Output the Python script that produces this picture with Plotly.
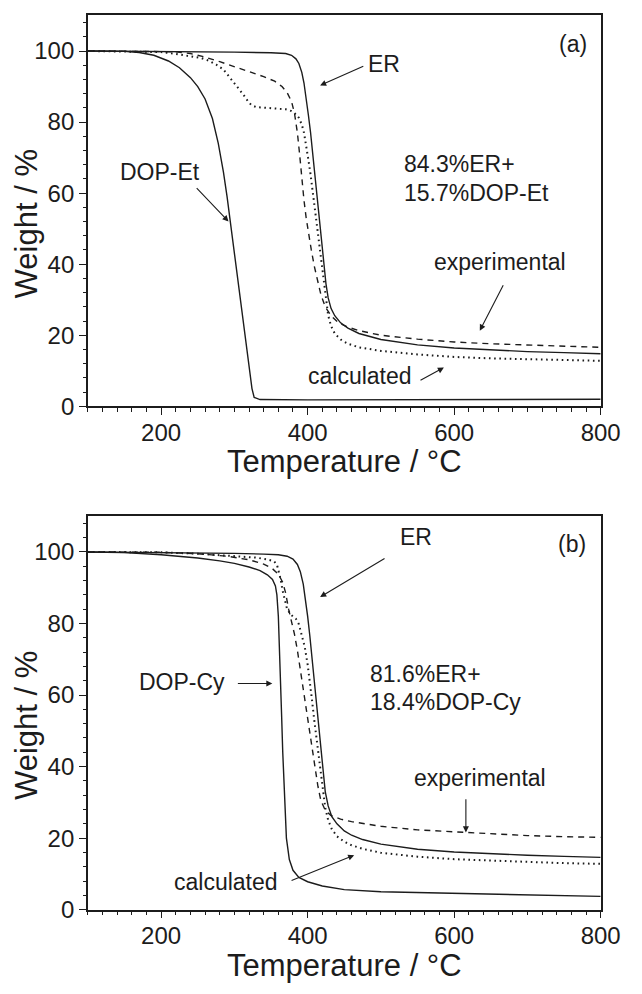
import plotly.graph_objects as go

# ---------------- panel (a): ER / DOP-Et ----------------
er_a_t = [100, 200, 300, 350, 370, 378, 384, 388, 392, 395, 398, 401, 404, 407, 410, 413, 416, 419, 422,
          425, 428, 432, 437, 445, 455, 470, 500, 550, 600, 650, 700, 750, 800]
er_a_w = [100, 99.9, 99.7, 99.5, 99.3, 98.8, 97.8, 96.5, 94, 91, 87, 82, 77, 71, 65, 59, 52.5, 46, 40,
          34.5, 30.5, 27.5, 25.5, 23.5, 22, 20.5, 18.8, 17.3, 16.4, 15.8, 15.4, 15.1, 14.8]

dopet_t = [100, 150, 170, 190, 210, 225, 240, 250, 260, 270, 278, 285, 290, 295, 300, 305, 310, 315,
           320, 324, 327, 335, 400, 600, 800]
dopet_w = [100, 99.9, 99.6, 98.8, 97.2, 95.3, 92.5, 90, 86.5, 81, 74, 66, 59, 51, 43, 35, 27, 19,
           11, 5, 2.5, 1.9, 1.8, 1.8, 2.0]

exp_a_t = [100, 200, 220, 240, 260, 280, 300, 320, 340, 355, 365, 372, 378, 382, 386, 389, 392, 395,
           398, 401, 405, 409, 413, 418, 424, 432, 442, 455, 470, 500, 550, 600, 650, 700, 750, 800]
exp_a_w = [100, 100, 99.8, 99.3, 98.3, 97, 95.6, 94.2, 92.8, 91.5, 90, 88.3, 85.8, 82.5, 77, 71, 64, 58,
           53, 48.5, 44, 39.5, 35.5, 31.5, 28, 25.5, 23.5, 22.3, 21.3, 20, 18.9, 18.1, 17.6, 17.2, 16.9, 16.6]

calc_a_t = [100, 180, 200, 220, 240, 255, 265, 275, 285, 295, 305, 312, 318, 323, 330, 350, 370, 378,
            384, 388, 392, 395, 398, 401, 404, 407, 410, 413, 416, 419, 422, 425, 428, 432, 437, 445,
            455, 470, 500, 550, 600, 650, 700, 750, 800]
calc_a_w = [100, 99.9, 99.7, 99.2, 98.6, 98, 97.3, 96.2, 94.8, 92.3, 89.5, 87.8, 86, 84.8, 84.2, 84, 83.6, 83.1,
            82.2, 81.2, 79.3, 77, 73.6, 69.4, 65.2, 60.2, 55.1, 50, 44.6, 39, 34, 29.4, 25.6, 22.6, 20.5, 18.8,
            17.6, 16.6, 15.6, 14.6, 13.9, 13.5, 13.2, 13.0, 12.8]

# ---------------- panel (b): ER / DOP-Cy ----------------
er_b_t = [100, 200, 300, 340, 360, 372, 380, 386, 390, 394, 397, 400, 403, 406, 409, 412, 415, 418, 421,
          424, 428, 433, 440, 450, 460, 475, 500, 550, 600, 650, 700, 750, 800]
er_b_w = [100, 99.9, 99.6, 99.4, 99.2, 98.8, 98, 96.5, 94.5, 91, 87, 82, 76.5, 70, 63.5, 57, 50.5, 44, 38,
          33, 29, 26, 24, 22, 20.8, 19.6, 18.3, 16.9, 16.1, 15.6, 15.2, 14.9, 14.6]

dopcy_t = [100, 150, 200, 250, 280, 300, 320, 335, 345, 352, 356, 358, 360, 361.5, 363, 364.5, 366, 367.5,
           369, 371, 375, 380, 388, 400, 420, 450, 500, 600, 700, 800]
dopcy_w = [100, 99.8, 99.2, 98.3, 97.5, 96.8, 95.8, 94.8, 93.6, 92.3, 90.5, 88, 82, 74, 64, 54, 44, 35,
           27, 20, 14, 11, 9, 7.8, 6.6, 5.6, 5.0, 4.5, 4.2, 3.7]

exp_b_t = [100, 200, 250, 290, 320, 340, 352, 360, 366, 370, 374, 378, 382, 386, 390, 394, 398, 402, 406,
           410, 414, 418, 424, 432, 445, 460, 480, 500, 550, 600, 650, 700, 750, 800]
exp_b_w = [100, 99.9, 99.5, 98.8, 97.8, 96.6, 95.3, 93.8, 91.5, 88.5, 84, 80.5, 77, 72.5, 67, 61, 55.5, 50.5, 45,
           39.5, 34.5, 30.5, 27.8, 26.3, 25.3, 24.6, 23.9, 23.3, 22.3, 21.7, 21.1, 20.7, 20.4, 20.2]

calc_b_t = [100, 200, 250, 300, 330, 345, 354, 358, 361, 363, 366, 369, 372, 378, 384, 388, 392, 396, 400,
            403, 406, 409, 412, 415, 418, 421, 424, 428, 433, 440, 450, 460, 475, 500, 550, 600, 650, 700,
            750, 800]
calc_b_w = [100, 99.9, 99.5, 98.9, 98.4, 97.9, 97.4, 96.5, 94.5, 92.5, 89, 86, 84, 82.3, 81.3, 79.8, 77, 73.5,
            68.5, 64, 58.5, 53, 48, 42.5, 37, 32.5, 28.5, 25, 22.5, 20.5, 19, 18, 17, 15.9, 14.8, 14.1, 13.7,
            13.3, 13.0, 12.8]

INK = "#1c1c1c"
FONT = "Liberation Sans, Arial, sans-serif"

fig = go.Figure()


def add_curve(t, w, axes, dash, width):
    xa, ya = axes
    fig.add_trace(go.Scatter(x=t, y=w, mode="lines", xaxis=xa, yaxis=ya, showlegend=False,
                             hoverinfo="skip",
                             line=dict(color=INK, width=width, dash=dash)))


top = ("x", "y")
bot = ("x2", "y2")
add_curve(dopet_t, dopet_w, top, "solid", 1.4)
add_curve(er_a_t, er_a_w, top, "solid", 1.4)
add_curve(exp_a_t, exp_a_w, top, "6px,5px", 1.4)
add_curve(calc_a_t, calc_a_w, top, "1.6px,3.6px", 2)

add_curve(dopcy_t, dopcy_w, bot, "solid", 1.4)
add_curve(er_b_t, er_b_w, bot, "solid", 1.4)
add_curve(exp_b_t, exp_b_w, bot, "6px,5px", 1.4)
add_curve(calc_b_t, calc_b_w, bot, "1.6px,3.6px", 2)

xdom = [90.7 / 642, 620 / 642]
H = 994.0
ydom_top = [(H - 411.7) / H, (H - 15.7) / H]
ydom_bot = [(H - 921.7) / H, (H - 523.0) / H]

xaxis_style = dict(range=[100, 800], domain=xdom, showgrid=False, zeroline=False,
                   showline=True, linecolor=INK, linewidth=1.6, mirror=True,
                   ticks="outside", ticklen=7, tickwidth=1.3, tickcolor=INK,
                   tickmode="linear", tick0=200, dtick=200, ticklabelstandoff=-3,
                   minor=dict(dtick=20, tick0=100, ticks="outside", ticklen=3.5, tickwidth=1.1,
                              tickcolor=INK),
                   tickfont=dict(family=FONT, size=24, color=INK))
yaxis_style = dict(range=[0, 110], showgrid=False, zeroline=False,
                   showline=True, linecolor=INK, linewidth=1.6, mirror=True,
                   ticks="outside", ticklen=7, tickwidth=1.3, tickcolor=INK,
                   tickmode="linear", tick0=0, dtick=20,
                   minor=dict(dtick=4, tick0=0, ticks="outside", ticklen=3.5, tickwidth=1.1,
                              tickcolor=INK),
                   tickfont=dict(family=FONT, size=24, color=INK))

fig.update_layout(
    width=642, height=994,
    margin=dict(l=0, r=0, t=0, b=0),
    paper_bgcolor="white", plot_bgcolor="white",
    font=dict(family=FONT, color=INK),
    xaxis=dict(xaxis_style, anchor="y"),
    yaxis=dict(yaxis_style, domain=ydom_top, anchor="x"),
    xaxis2=dict(xaxis_style, anchor="y2"),
    yaxis2=dict(yaxis_style, domain=ydom_bot, anchor="x2"),
)

anns = []


def label(text, x, y, axes, size=23, xanchor="center"):
    xa, ya = axes
    anns.append(dict(text=text, x=x, y=y, xref=xa, yref=ya, showarrow=False,
                     xanchor=xanchor, yanchor="middle",
                     font=dict(family=FONT, size=size, color=INK)))


def arrow(x0, y0, x1, y1, axes):
    xa, ya = axes
    anns.append(dict(text="", x=x1, y=y1, ax=x0, ay=y0, xref=xa, yref=ya, axref=xa, ayref=ya,
                     showarrow=True, arrowhead=2, arrowsize=1.1, arrowwidth=1.1, arrowcolor=INK,
                     standoff=0, startstandoff=0))


# panel (a) labels
label("(a)", 762, 102, top)
label("ER", 504, 96.3, top)
arrow(478, 95.9, 417, 90.3, top)
label("DOP-Et", 199, 66, top)
arrow(246.6, 61.8, 292, 52, top)
label("84.3%ER+", 529, 68.3, top, xanchor="left")
label("15.7%DOP-Et", 529, 60, top, xanchor="left")
label("experimental", 662, 40.7, top)
arrow(668, 34.5, 635, 21.3, top)
label("calculated", 471.7, 8.5, top)
arrow(552, 7.1, 586, 10.9, top)

# panel (b) labels
label("(b)", 760.5, 102.1, bot)
label("ER", 548, 104.2, bot)
arrow(507, 98.4, 417, 87.4, bot)
label("DOP-Cy", 229, 63.5, bot)
arrow(302.7, 63.2, 351.8, 63.2, bot)
label("81.6%ER+", 482.6, 65.8, bot, xanchor="left")
label("18.4%DOP-Cy", 482.6, 58, bot, xanchor="left")
label("experimental", 635, 36.8, bot)
arrow(616, 31.3, 616, 21.6, bot)
label("calculated", 289, 7.6, bot)
arrow(376, 8, 463.5, 15.2, bot)

# axis titles
for yc, xc_title in [(226.7, 467.5), (735.0, 978.5)]:
    anns.append(dict(text="Weight / %", x=27.5 / 642, y=(H - yc) / H, xref="paper", yref="paper",
                     showarrow=False, textangle=-90, xanchor="center", yanchor="middle",
                     font=dict(family=FONT, size=31, color=INK)))
    anns.append(dict(text="Temperature / °C", x=(90.7 + 620) / 2 / 642, y=(H - xc_title) / H,
                     xref="paper", yref="paper", showarrow=False, xanchor="center",
                     yanchor="middle", font=dict(family=FONT, size=31, color=INK)))

fig.update_layout(annotations=anns)

fig.write_html("out.html")
